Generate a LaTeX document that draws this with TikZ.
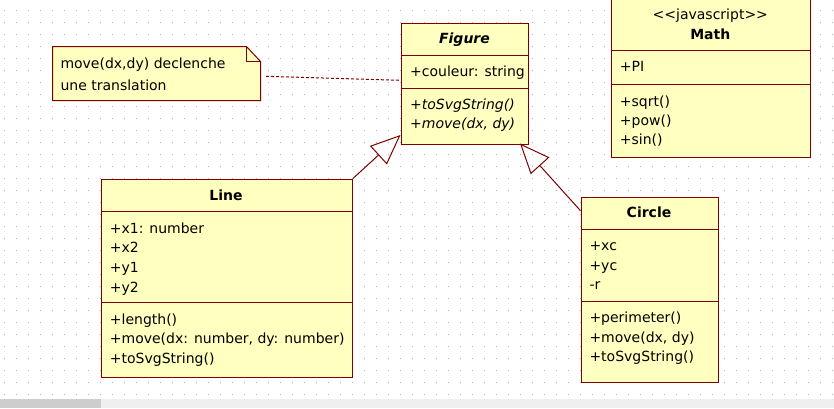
\documentclass[tikz,border=0pt]{standalone}
\usepackage{fontspec}
\setmainfont{DejaVu Sans}
\usetikzlibrary{arrows.meta,calc}
\definecolor{umlborder}{HTML}{800000}
\definecolor{umlfill}{HTML}{FFFFC0}
\definecolor{griddot}{HTML}{B0B0B0}
\definecolor{barlight}{HTML}{EFEFEF}
\definecolor{bardark}{HTML}{CDCDCD}
\tikzset{
  classbox/.style={draw=umlborder, fill=umlfill, line width=1pt, inner sep=0pt, anchor=north west},
  divider/.style={draw=umlborder, line width=1pt},
  member/.style={anchor=base west, inner sep=0pt, font=\fontsize{14}{19.6}\selectfont},
  opit/.style={member, font=\fontsize{14}{19.6}\selectfont\itshape},
  ctitle/.style={anchor=base, inner sep=0pt, font=\fontsize{14}{19.6}\selectfont\bfseries},
  cstereo/.style={anchor=base, inner sep=0pt, font=\fontsize{14}{19.6}\selectfont},
  gen/.style={draw=umlborder, line width=1pt, -{Triangle[open, length=30pt, width=25pt]}},
  notelink/.style={draw=umlborder, line width=1pt, dash pattern=on 3pt off 2pt},
  noteshape/.style={draw=umlborder, fill=umlfill, line width=1pt, line join=miter}
}
\begin{document}
\begin{tikzpicture}[x=1pt,y=-1pt]
\useasboundingbox (0,0) rectangle (834,408);
\clip (0,0) rectangle (834,408);
\fill[white] (0,0) rectangle (834,408);
% grid dots
\foreach \i in {0,...,69}{\foreach \j in {0,...,32}{\fill[griddot] (4+12*\i,10+12*\j) rectangle ++(1,1);}}
% bottom bar
\fill[barlight] (0,399) rectangle (834,408);
\fill[bardark] (0,399) rectangle (101,408);

% ---- Note ----
\draw[noteshape] (52.5,46.5) -- (246.5,46.5) -- (260.5,61.5) -- (260.5,100.5) -- (52.5,100.5) -- cycle;
\draw[divider] (246.5,46.5) -- (246.5,61.5) -- (260.5,61.5);
\node[member] (note1) at (60.3,68) {move(dx,dy) declenche};
\node[member] (note2) at (60.3,90) {une translation};
\coordinate (noteend) at (266,76.3);

% ---- Figure ----
\node[classbox, minimum width=127.6pt, minimum height=121pt] (figure) at (400.5,22.5) {};
\draw[divider] (figure.west |- 0,55.5) -- (figure.east |- 0,55.5);
\draw[divider] (figure.west |- 0,88.5) -- (figure.east |- 0,88.5);
\node[ctitle, font=\fontsize{14}{19.6}\selectfont\bfseries\itshape] (figtitle) at (464.5,43.3) {Figure};
\node[member] (figatt) at (410,76.7) {+couleur: string};
\node[opit] (figop1) at (410,109.3) {+toSvgString()};
\node[opit] (figop2) at (410,128.9) {+move(dx, dy)};
\coordinate (figleft) at (400.5,80.3);
\coordinate (figtipL) at (400.5,135);
\coordinate (figtipR) at (520,143.5);

% ---- Math ----
\node[classbox, minimum width=199.5pt, minimum height=159.5pt] (math) at (610.5,-2.5) {};
\draw[divider] (math.west |- 0,50.5) -- (math.east |- 0,50.5);
\draw[divider] (math.west |- 0,84.5) -- (math.east |- 0,84.5);
\node[cstereo] (mathst) at (710.3,19.3) {<\kern0pt<javascript>\kern0pt>};
\node[ctitle] (mathtitle) at (710.3,39.3) {Math};
\node[member] (mathatt) at (619.7,71.7) {+PI};
\foreach \t [count=\k from 0] in {{+sqrt()},{+pow()},{+sin()}}
  \node[member] (mathop\k) at (619.7,106+19.1*\k) {\t};

% ---- Line ----
\node[classbox, minimum width=251.4pt, minimum height=198.7pt] (line) at (100.5,178.5) {};
\draw[divider] (line.west |- 0,211.5) -- (line.east |- 0,211.5);
\draw[divider] (line.west |- 0,302.5) -- (line.east |- 0,302.5);
\node[ctitle] (linetitle) at (226,200) {Line};
\foreach \t [count=\k from 0] in {{+x1: number},{+x2},{+y1},{+y2}}
  \node[member] (lineatt\k) at (109.7,233.3+19.6*\k) {\t};
\foreach \t [count=\k from 0] in {{+length()},{+move(dx: number, dy: number)},{+toSvgString()}}
  \node[member] (lineop\k) at (109.7,324.3+19.6*\k) {\t};

% ---- Circle ----
\node[classbox, minimum width=137.4pt, minimum height=185pt] (circle) at (580.5,196.5) {};
\draw[divider] (circle.west |- 0,229.5) -- (circle.east |- 0,229.5);
\draw[divider] (circle.west |- 0,301.5) -- (circle.east |- 0,301.5);
\node[ctitle] (circletitle) at (649,217.7) {Circle};
\foreach \t [count=\k from 0] in {{+xc},{+yc},{-r}}
  \node[member] (circleatt\k) at (589.3,250.7+19.6*\k) {\t};
\foreach \t [count=\k from 0] in {{+perimeter()},{+move(dx, dy)},{+toSvgString()}}
  \node[member] (circleop\k) at (589.3,322.7+19.6*\k) {\t};
\coordinate (circlein) at (580.5,210.7);

% ---- connectors ----
\draw[notelink] (noteend) -- (figleft);
\draw[gen] (line.north east) -- (figtipL);
\draw[gen] (circlein) -- (figtipR);
\end{tikzpicture}
\end{document}
